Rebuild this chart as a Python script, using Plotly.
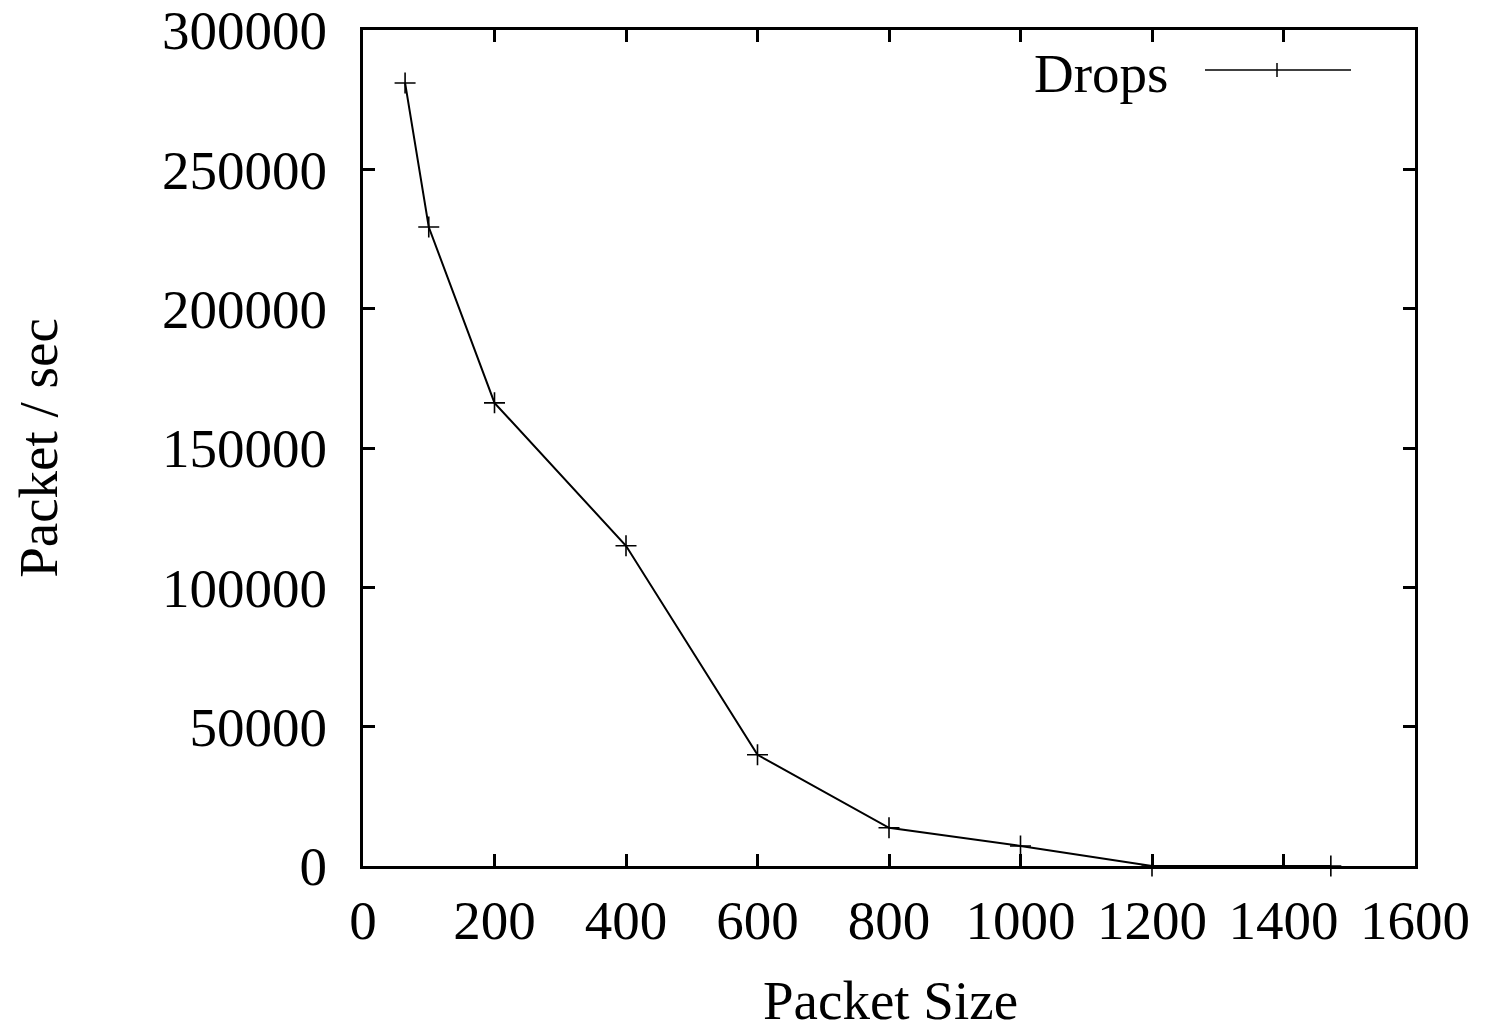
import plotly.graph_objects as go

packet_size = [64, 100, 200, 400, 600, 800, 1000, 1200, 1472]
drops = [281000, 229300, 166200, 114900, 39900, 13700, 7200, 0, 0]
x_ticks = [0, 200, 400, 600, 800, 1000, 1200, 1400, 1600]
y_ticks = [0, 50000, 100000, 150000, 200000, 250000, 300000]

FONT = "Liberation Serif"
FS = 55
OFF = 8  # page body offset
W, H = 1470, 1013
L, R, T, B = 363 - OFF, 63, 30 - OFF, 155

fig = go.Figure()
fig.add_trace(go.Scatter(
    x=packet_size, y=drops, mode="lines+markers", name="Drops",
    line=dict(color="black", width=2),
    marker=dict(symbol="cross-thin-open", size=15, line=dict(color="black", width=1.6)),
    showlegend=False, cliponaxis=False,
))

axis_common = dict(
    showline=True, linecolor="black", linewidth=3, mirror="ticks",
    ticks="inside", ticklen=12, tickwidth=3, tickcolor="black",
    showgrid=False, zeroline=False, ticklabeloverflow="allow",
    tickfont=dict(family=FONT, size=FS, color="black"),
)
fig.update_xaxes(range=[0, 1600], tickvals=x_ticks, ticktext=[str(v) for v in x_ticks],
                 ticklabelstandoff=4, **axis_common)
fig.update_yaxes(range=[0, 300000], tickvals=y_ticks, ticktext=[str(v) for v in y_ticks],
                 ticklabelstandoff=22,
                 title=dict(text="Packet / sec", font=dict(family=FONT, size=FS, color="black"), standoff=88),
                 **axis_common)

pw, ph = W - L - R, H - T - B
def px(xp):
    return (xp - OFF - L) / pw
def py(yp):
    return 1 - (yp - OFF - T) / ph

fig.add_annotation(xref="paper", yref="paper", x=px(890), y=py(1001), text="Packet Size",
                   showarrow=False, xanchor="center", yanchor="middle",
                   font=dict(family=FONT, size=FS, color="black"))
fig.add_annotation(xref="paper", yref="paper", x=px(1170), y=py(73), text="Drops",
                   showarrow=False, xanchor="right", yanchor="middle",
                   font=dict(family=FONT, size=FS, color="black"))
fig.add_shape(type="line", xref="paper", yref="paper", x0=px(1205), x1=px(1351), y0=py(70), y1=py(70),
              line=dict(color="black", width=1.5))
fig.add_shape(type="line", xref="paper", yref="paper", x0=px(1277), x1=px(1277), y0=py(63), y1=py(77),
              line=dict(color="black", width=1.5))

fig.update_layout(
    width=W, height=H, margin=dict(l=L, r=R, t=T, b=B, autoexpand=False),
    paper_bgcolor="white", plot_bgcolor="white",
)
fig.write_html("out.html")
